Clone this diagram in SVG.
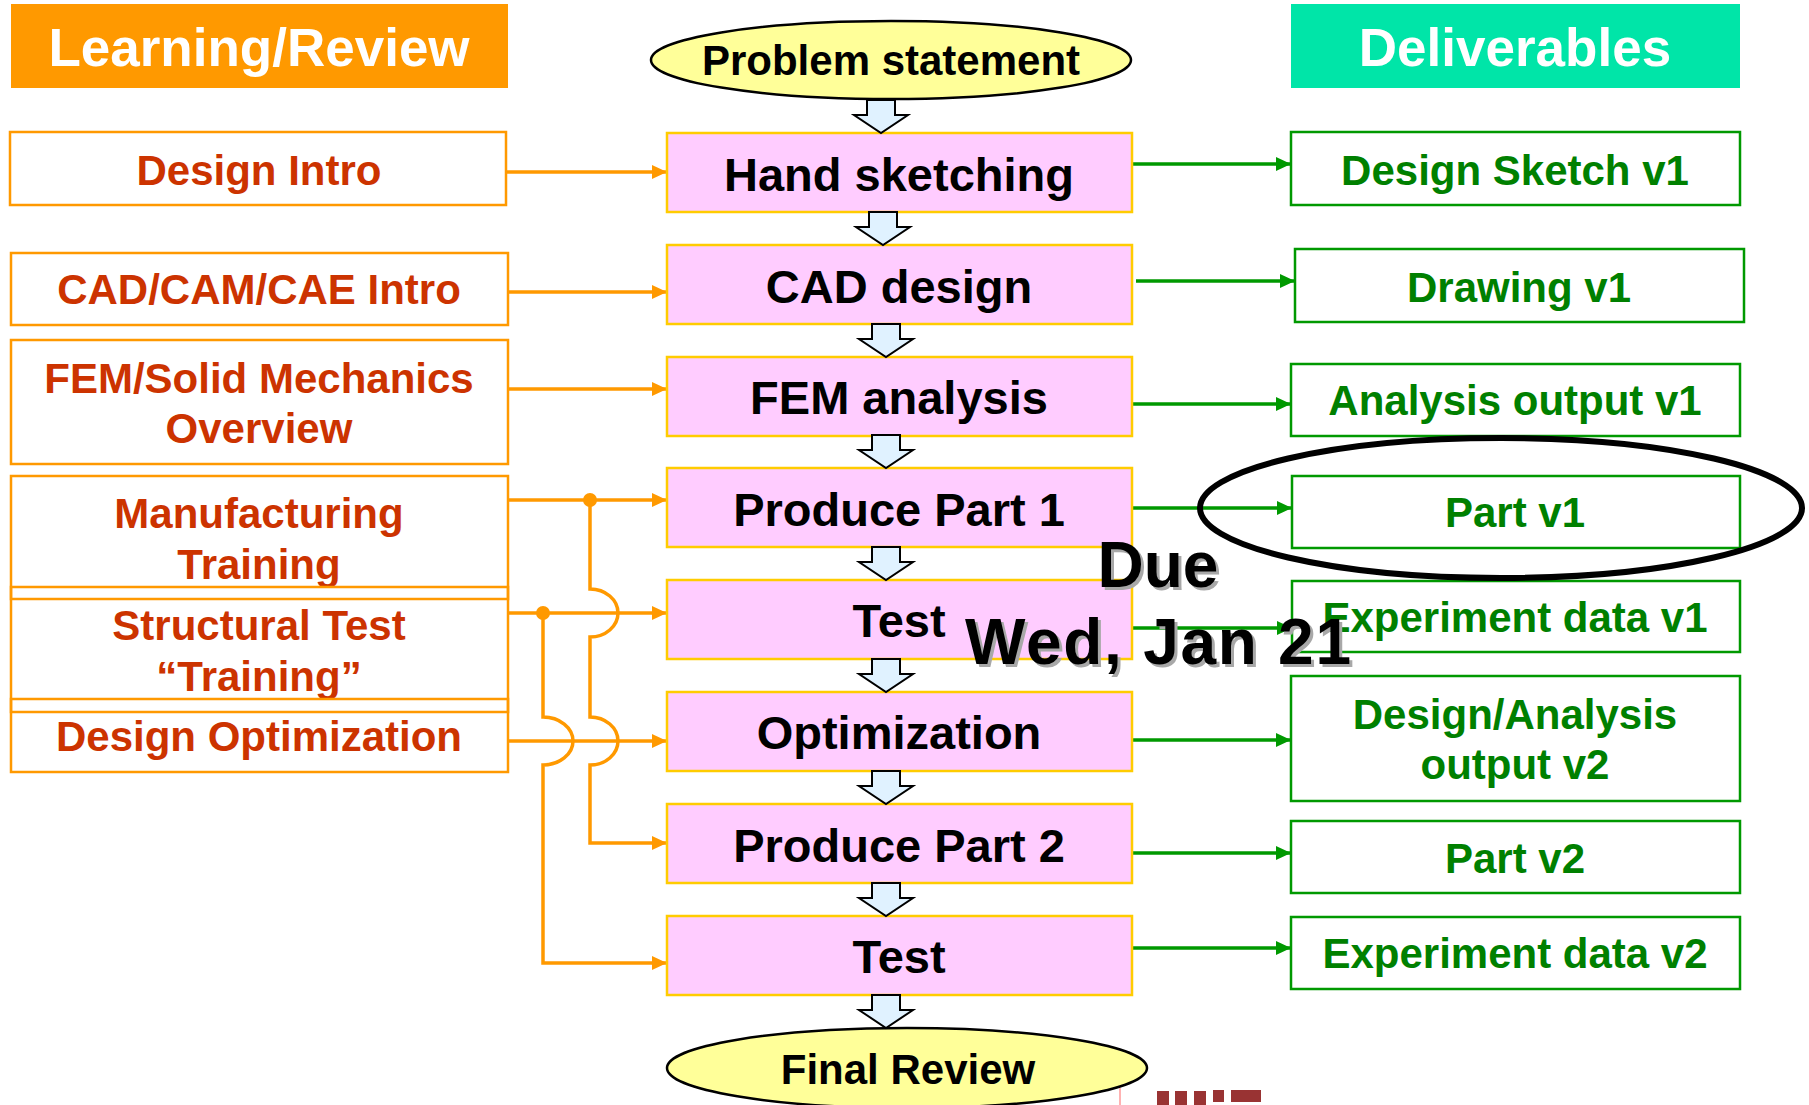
<svg xmlns="http://www.w3.org/2000/svg" width="1809" height="1105" viewBox="0 0 1809 1105">
<style>
text{font-family:"Liberation Sans",Arial,sans-serif;font-weight:bold;text-anchor:middle}
.hdr{font-size:53px;fill:#fff}
.lbox{fill:none;stroke:#FF9900;stroke-width:2.5}
.ltxt{font-size:42px;fill:#CC3300}
.cbox{fill:#FFCCFF;stroke:#FFCC00;stroke-width:2.5}
.ctxt{font-size:47px;fill:#000}
.rbox{fill:#fff;stroke:#009900;stroke-width:2.5}
.rtxt{font-size:42px;fill:#008000}
.oval{fill:#FFFF99;stroke:#000;stroke-width:2.5}
.otxt{font-size:42px;fill:#000}
.bar{fill:#E0F2FF;stroke:#000;stroke-width:2}
.oc{fill:none;stroke:#FF9900;stroke-width:3.5}
.gc{fill:none;stroke:#009900;stroke-width:3.5}
.due{font-size:64px;fill:#000}
.dueS{font-size:64px;fill:#A8A8A8}
</style>
<defs>
<marker id="ao" markerUnits="userSpaceOnUse" markerWidth="16" markerHeight="16" refX="15" refY="8" orient="auto"><path d="M0,1 L15,8 L0,15 Z" fill="#FF9900"/></marker>
<marker id="ag" markerUnits="userSpaceOnUse" markerWidth="16" markerHeight="16" refX="15" refY="8" orient="auto"><path d="M0,1 L15,8 L0,15 Z" fill="#009900"/></marker>
<path id="barrow" d="M-14,-33 H14 V-18 H27 L0,0 L-27,-18 H-14 Z"/>
</defs>

<g id="header-learning"><rect x="11" y="4" width="497" height="84" fill="#FF9900"/><text class="hdr" x="259" y="66">Learning/Review</text></g>
<g id="header-deliverables"><rect x="1291" y="4" width="449" height="84" fill="#00E5A8"/><text class="hdr" x="1515" y="66">Deliverables</text></g>

<g id="connectors">
<g id="orange-links">
<path class="oc" d="M506,172 H667" marker-end="url(#ao)"/>
<path class="oc" d="M508,292 H667" marker-end="url(#ao)"/>
<path class="oc" d="M508,389 H667" marker-end="url(#ao)"/>
<path class="oc" d="M508,500 H667" marker-end="url(#ao)"/>
<path class="oc" d="M508,613 H667" marker-end="url(#ao)"/>
<path class="oc" d="M508,741 H667" marker-end="url(#ao)"/>
<path class="oc" d="M590,500 V589 A28,24 0 0 1 590,637 V717 A28,24 0 0 1 590,765 V843 H667" marker-end="url(#ao)"/>
<path class="oc" d="M543,613 V717 A30,24 0 0 1 543,765 V963 H667" marker-end="url(#ao)"/>
<circle cx="590" cy="500" r="7" fill="#FF9900"/>
<circle cx="543" cy="613" r="7" fill="#FF9900"/>
</g>
<g id="green-links">
<path class="gc" d="M1132,164 H1291" marker-end="url(#ag)"/>
<path class="gc" d="M1136,281 H1295" marker-end="url(#ag)"/>
<path class="gc" d="M1132,404 H1291" marker-end="url(#ag)"/>
<path class="gc" d="M1132,508 H1292" marker-end="url(#ag)"/>
<path class="gc" d="M1132,628 H1292" marker-end="url(#ag)"/>
<path class="gc" d="M1132,740 H1291" marker-end="url(#ag)"/>
<path class="gc" d="M1132,853 H1291" marker-end="url(#ag)"/>
<path class="gc" d="M1132,948 H1291" marker-end="url(#ag)"/>
</g>
</g>

<g id="design-intro"><rect class="lbox" x="10" y="132" width="496" height="73"/><text class="ltxt" x="259" y="185">Design Intro</text></g>
<g id="cad-cam-cae-intro"><rect class="lbox" x="11" y="253" width="497" height="72"/><text class="ltxt" x="259" y="304">CAD/CAM/CAE Intro</text></g>
<g id="fem-solid-mechanics"><rect class="lbox" x="11" y="340" width="497" height="124"/><text class="ltxt" x="259" y="393">FEM/Solid Mechanics</text><text class="ltxt" x="259" y="443">Overview</text></g>
<g id="manufacturing-training"><rect class="lbox" x="11" y="476" width="497" height="123"/><text class="ltxt" x="259" y="528">Manufacturing</text><text class="ltxt" x="259" y="579">Training</text></g>
<g id="structural-test-training"><rect class="lbox" x="11" y="587" width="497" height="125"/><text class="ltxt" x="259" y="640">Structural Test</text><text class="ltxt" x="259" y="691">“Training”</text></g>
<g id="design-optimization"><rect class="lbox" x="11" y="699" width="497" height="73"/><text class="ltxt" x="259" y="751">Design Optimization</text></g>

<g id="hand-sketching"><rect class="cbox" x="667" y="133" width="465" height="79"/><text class="ctxt" x="899" y="191">Hand sketching</text></g>
<g id="cad-design"><rect class="cbox" x="667" y="245" width="465" height="79"/><text class="ctxt" x="899" y="303">CAD design</text></g>
<g id="fem-analysis"><rect class="cbox" x="667" y="357" width="465" height="79"/><text class="ctxt" x="899" y="414">FEM analysis</text></g>
<g id="produce-part-1"><rect class="cbox" x="667" y="468" width="465" height="79"/><text class="ctxt" x="899" y="526">Produce Part 1</text></g>
<g id="test-1"><rect class="cbox" x="667" y="580" width="465" height="79"/><text class="ctxt" x="899" y="637">Test</text></g>
<g id="optimization"><rect class="cbox" x="667" y="692" width="465" height="79"/><text class="ctxt" x="899" y="749">Optimization</text></g>
<g id="produce-part-2"><rect class="cbox" x="667" y="804" width="465" height="79"/><text class="ctxt" x="899" y="862">Produce Part 2</text></g>
<g id="test-2"><rect class="cbox" x="667" y="916" width="465" height="79"/><text class="ctxt" x="899" y="973">Test</text></g>
<g id="final-review"><ellipse class="oval" cx="907" cy="1068" rx="240" ry="40"/><text class="otxt" x="908" y="1084">Final Review</text></g>

<g id="block-arrows">
<use href="#barrow" class="bar" x="881" y="133"/>
<use href="#barrow" class="bar" x="883" y="245"/>
<use href="#barrow" class="bar" x="886" y="357"/>
<use href="#barrow" class="bar" x="886" y="468"/>
<use href="#barrow" class="bar" x="886" y="580"/>
<use href="#barrow" class="bar" x="886" y="692"/>
<use href="#barrow" class="bar" x="886" y="804"/>
<use href="#barrow" class="bar" x="886" y="916"/>
<use href="#barrow" class="bar" x="886" y="1028"/>
</g>

<g id="problem-statement"><ellipse class="oval" cx="891" cy="60" rx="240" ry="39"/><text class="otxt" x="891" y="75">Problem statement</text></g>

<g id="design-sketch-v1"><rect class="rbox" x="1291" y="132" width="449" height="73"/><text class="rtxt" x="1515" y="185">Design Sketch v1</text></g>
<g id="drawing-v1"><rect class="rbox" x="1295" y="249" width="449" height="73"/><text class="rtxt" x="1519" y="302">Drawing v1</text></g>
<g id="analysis-output-v1"><rect class="rbox" x="1291" y="364" width="449" height="72"/><text class="rtxt" x="1515" y="415">Analysis output v1</text></g>
<g id="part-v1"><rect class="rbox" x="1292" y="476" width="448" height="72"/><text class="rtxt" x="1515" y="527">Part v1</text></g>
<g id="experiment-data-v1"><rect class="rbox" x="1292" y="581" width="448" height="71"/><text class="rtxt" x="1515" y="632">Experiment data v1</text></g>
<g id="design-analysis-output-v2"><rect class="rbox" x="1291" y="676" width="449" height="125"/><text class="rtxt" x="1515" y="729">Design/Analysis</text><text class="rtxt" x="1515" y="779">output v2</text></g>
<g id="part-v2"><rect class="rbox" x="1291" y="821" width="449" height="72"/><text class="rtxt" x="1515" y="873">Part v2</text></g>
<g id="experiment-data-v2"><rect class="rbox" x="1291" y="917" width="449" height="72"/><text class="rtxt" x="1515" y="968">Experiment data v2</text></g>

<ellipse id="highlight" cx="1501" cy="508" rx="301" ry="70" fill="none" stroke="#000" stroke-width="6"/>

<g id="due-note">
<text class="dueS" x="1161" y="590">Due</text>
<text class="due" x="1158" y="587">Due</text>
<text class="dueS" x="1161" y="667" textLength="386" lengthAdjust="spacing">Wed, Jan 21</text>
<text class="due" x="1158" y="664" textLength="386" lengthAdjust="spacing">Wed, Jan 21</text>
</g>

<g id="corner-marks">
<line x1="1120" y1="1088" x2="1120" y2="1105" stroke="#FF9999" stroke-width="1.5"/>
<rect x="1157" y="1091" width="12" height="14" fill="#993333"/>
<rect x="1175" y="1091" width="12" height="14" fill="#993333"/>
<rect x="1194" y="1091" width="12" height="14" fill="#993333"/>
<rect x="1213" y="1090" width="11" height="12" fill="#993333"/>
<rect x="1231" y="1090" width="30" height="12" fill="#993333"/>
</g>
</svg>
